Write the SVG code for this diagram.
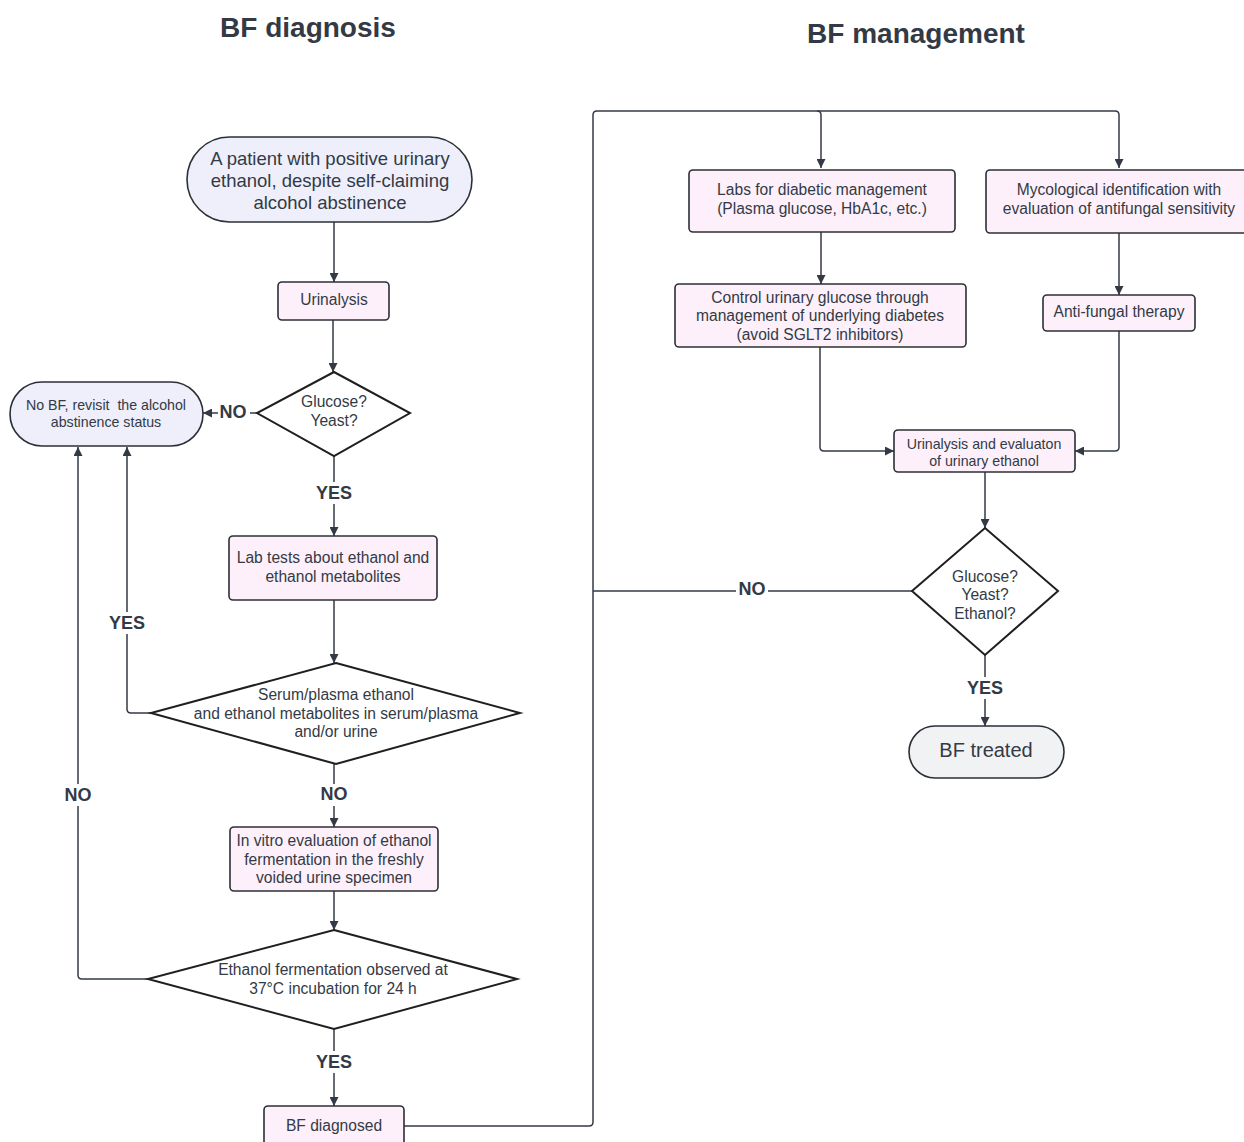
<svg xmlns="http://www.w3.org/2000/svg" width="1244" height="1142" viewBox="0 0 1244 1142">
<defs>
<marker id="ah" viewBox="0 0 10 10" refX="10" refY="5" markerWidth="9" markerHeight="9" markerUnits="userSpaceOnUse" orient="auto">
<path d="M0,0 L10,5 L0,10 z" fill="#333a45"/>
</marker>
</defs>
<style>
text{font-family:"Liberation Sans",Arial,sans-serif;fill:#333a45;text-anchor:middle;dominant-baseline:central}
.box{fill:#fdf0fa;stroke:#2b2f36;stroke-width:1.6}
.start{fill:#eeeffb;stroke:#2b2f36;stroke-width:1.6}
.end{fill:#f1f2f4;stroke:#2b2f36;stroke-width:1.6}
.dia{fill:#ffffff;stroke:#1f1f1f;stroke-width:2}
.t16{font-size:15.6px}
.t14{font-size:14.2px}
.t18{font-size:18.5px}
.lbl{font-size:18px;font-weight:bold}
.title{font-size:28px;font-weight:bold}
.c{fill:none;stroke:#333a45;stroke-width:1.5}
.cn{fill:none;stroke:#333a45;stroke-width:1.5;marker-end:url(#ah)}
.lb{fill:#ffffff}
</style>
<rect width="1244" height="1142" fill="#ffffff"/>
<text class="title" x="308" y="27">BF diagnosis</text>
<text class="title" x="916" y="33">BF management</text>

<g id="connectors">
<line class="cn" x1="334" y1="222" x2="334" y2="282"/>
<line class="cn" x1="333" y1="320" x2="333" y2="372"/>
<line class="cn" x1="257" y1="413" x2="203" y2="413"/>
<line class="cn" x1="334" y1="456" x2="334" y2="536"/>
<line class="cn" x1="334" y1="600" x2="334" y2="663"/>
<path class="cn" d="M151,713 H131 Q127,713 127,709 V447"/>
<line class="cn" x1="334" y1="764" x2="334" y2="827"/>
<line class="cn" x1="334" y1="891" x2="334" y2="930"/>
<path class="cn" d="M148,979 H82 Q78,979 78,975 V447"/>
<line class="cn" x1="334" y1="1029" x2="334" y2="1106"/>
<path class="cn" d="M404,1126 H589 Q593,1126 593,1122 V115 Q593,111 597,111 H1115 Q1119,111 1119,115 V168"/>
<path class="cn" d="M817,111 Q821,111 821,115 V168"/>
<line class="c" x1="912" y1="591" x2="593" y2="591"/>
<line class="cn" x1="821" y1="232" x2="821" y2="284"/>
<line class="cn" x1="1119" y1="233" x2="1119" y2="295"/>
<path class="cn" d="M820,347 V447 Q820,451 824,451 H894"/>
<path class="cn" d="M1119,331 V447 Q1119,451 1115,451 H1075"/>
<line class="cn" x1="985" y1="472" x2="985" y2="528"/>
<line class="cn" x1="985" y1="655" x2="985" y2="726"/>
<rect class="lb" x="218" y="402" width="32" height="20"/>
<text class="lbl" x="233" y="412">NO</text>
<rect class="lb" x="312" y="482" width="44" height="22"/>
<text class="lbl" x="334" y="493">YES</text>
<rect class="lb" x="106" y="612" width="44" height="22"/>
<text class="lbl" x="127" y="623">YES</text>
<rect class="lb" x="318" y="784" width="32" height="22"/>
<text class="lbl" x="334" y="794">NO</text>
<rect class="lb" x="62" y="784" width="32" height="22"/>
<text class="lbl" x="78" y="795">NO</text>
<rect class="lb" x="312" y="1051" width="44" height="22"/>
<text class="lbl" x="334" y="1062">YES</text>
<rect class="lb" x="736" y="579" width="32" height="20"/>
<text class="lbl" x="752" y="589">NO</text>
<rect class="lb" x="963" y="677" width="44" height="22"/>
<text class="lbl" x="985" y="688">YES</text>
</g>

<g id="start">
<rect class="start" x="187" y="137" width="285" height="85" rx="42.5"/>
<text class="t18" x="330" y="158">A patient with positive urinary</text>
<text class="t18" x="330" y="180">ethanol, despite self-claiming</text>
<text class="t18" x="330" y="202">alcohol abstinence</text>
</g>
<g id="urinalysis">
<rect class="box" x="278" y="282" width="111" height="38" rx="4"/>
<text class="t16" x="334" y="299">Urinalysis</text>
</g>
<g id="glucose-yeast">
<polygon class="dia" points="334,372 410,413 334,456 257,413"/>
<text class="t16" x="334" y="401">Glucose?</text>
<text class="t16" x="334" y="420">Yeast?</text>
</g>
<g id="no-bf">
<rect class="start" x="10" y="382" width="193" height="64" rx="32"/>
<text class="t14" x="106" y="405" xml:space="preserve" style="white-space:pre">No BF, revisit  the alcohol</text>
<text class="t14" x="106" y="422">abstinence status</text>
</g>
<g id="lab-tests">
<rect class="box" x="229" y="536" width="208" height="64" rx="4"/>
<text class="t16" x="333" y="557">Lab tests about ethanol and</text>
<text class="t16" x="333" y="576">ethanol metabolites</text>
</g>
<g id="serum">
<polygon class="dia" points="336,663 520,713 336,764 151,713"/>
<text class="t16" x="336" y="694">Serum/plasma ethanol</text>
<text class="t16" x="336" y="713">and ethanol metabolites in serum/plasma</text>
<text class="t16" x="336" y="731">and/or urine</text>
</g>
<g id="in-vitro">
<rect class="box" x="230" y="827" width="208" height="64" rx="4"/>
<text class="t16" x="334" y="840">In vitro evaluation of ethanol</text>
<text class="t16" x="334" y="859">fermentation in the freshly</text>
<text class="t16" x="334" y="877">voided urine specimen</text>
</g>
<g id="fermentation">
<polygon class="dia" points="334,930 517,979 334,1029 148,979"/>
<text class="t16" x="333" y="969">Ethanol fermentation observed at</text>
<text class="t16" x="333" y="988">37°C incubation for 24 h</text>
</g>
<g id="bf-diagnosed">
<rect class="box" x="264" y="1106" width="140" height="44" rx="4"/>
<text class="t16" x="334" y="1125">BF diagnosed</text>
</g>
<g id="labs-diabetic">
<rect class="box" x="689" y="170" width="266" height="62" rx="4"/>
<text class="t16" x="822" y="189">Labs for diabetic management</text>
<text class="t16" x="822" y="208">(Plasma glucose, HbA1c, etc.)</text>
</g>
<g id="mycological">
<rect class="box" x="986" y="170" width="270" height="63" rx="4"/>
<text class="t16" x="1119" y="189">Mycological identification with</text>
<text class="t16" x="1119" y="208">evaluation of antifungal sensitivity</text>
</g>
<g id="control-glucose">
<rect class="box" x="675" y="284" width="291" height="63" rx="4"/>
<text class="t16" x="820" y="297">Control urinary glucose through</text>
<text class="t16" x="820" y="315">management of underlying diabetes</text>
<text class="t16" x="820" y="334">(avoid SGLT2 inhibitors)</text>
</g>
<g id="anti-fungal">
<rect class="box" x="1043" y="295" width="152" height="36" rx="4"/>
<text class="t16" x="1119" y="311">Anti-fungal therapy</text>
</g>
<g id="urinalysis-eval">
<rect class="box" x="894" y="430" width="181" height="42" rx="4"/>
<text class="t14" x="984" y="444">Urinalysis and evaluaton</text>
<text class="t14" x="984" y="461">of urinary ethanol</text>
</g>
<g id="glucose-yeast-ethanol">
<polygon class="dia" points="985,528 1058,591 985,655 912,591"/>
<text class="t16" x="985" y="576">Glucose?</text>
<text class="t16" x="985" y="594">Yeast?</text>
<text class="t16" x="985" y="613">Ethanol?</text>
</g>
<g id="bf-treated">
<rect class="end" x="909" y="726" width="155" height="52" rx="26"/>
<text x="986" y="750" style="font-size:20px">BF treated</text>
</g>
</svg>
